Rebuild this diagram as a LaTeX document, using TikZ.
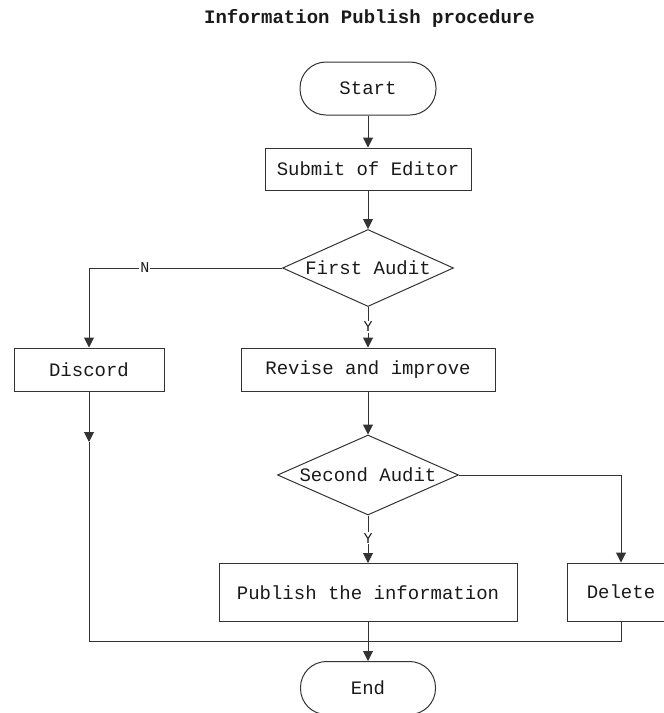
\documentclass[tikz,border=0pt]{standalone}
\usepackage{fontspec}
\setmainfont{Liberation Mono}
\usetikzlibrary{arrows.meta,shapes.geometric}
\definecolor{ln}{HTML}{333333}
\definecolor{tx}{HTML}{1A1A1A}
\tikzset{
  base/.style={draw=ln,line width=1pt,inner sep=0pt,text=tx,font=\fontsize{19}{21}\selectfont},
  stadium/.style={base,rectangle,rounded corners=26pt},
  procbox/.style={base,rectangle},
  decide/.style={base,diamond},
  conn/.style={draw=ln,line width=1pt,-{Triangle[width=10pt,length=10pt]}},
  plain/.style={draw=ln,line width=1pt},
  lbl/.style={fill=white,inner sep=1pt,text=tx,font=\fontsize{15}{16}\selectfont}
}
\begin{document}
\begin{tikzpicture}[x=1pt,y=1pt]
\useasboundingbox (0,0) rectangle (664,-713);
\node[font=\bfseries\fontsize{19}{21}\selectfont,text=tx] (title) at (369.5,-18) {Information Publish procedure};
\node[stadium,minimum width=136pt,minimum height=53pt] (start) at (368,-88.5) {Start};
\node[procbox,minimum width=206pt,minimum height=42pt] (submit) at (368,-169) {Submit of Editor};
\node[decide,aspect=2.22,minimum width=171pt,minimum height=77pt] (audit1) at (368,-268) {First Audit};
\node[procbox,minimum width=150pt,minimum height=43pt] (discord) at (89,-369.5) {Discord};
\node[procbox,minimum width=254pt,minimum height=43pt] (revise) at (368,-369.5) {Revise and improve};
\node[decide,aspect=2.26,minimum width=181pt,minimum height=80pt] (audit2) at (368,-475) {Second Audit};
\node[procbox,minimum width=298pt,minimum height=58pt] (publish) at (368,-592.5) {Publish the information};
\node[procbox,minimum width=108pt,minimum height=58pt] (delete) at (621,-592) {Delete};
\node[stadium,minimum width=135pt,minimum height=53pt] (end) at (368,-688) {End};
\coordinate (d1) at (89,-442);
\coordinate (m) at (368,-641);

\draw[conn] (start) -- (submit);
\draw[conn] (submit) -- (audit1);
\draw[conn] (audit1.west) -| node[lbl,pos=0.355] {N} (discord.north);
\draw[conn] (audit1.south) -- node[lbl,pos=0.49] {Y} (revise.north);
\draw[conn] (discord.south) -- (d1);
\draw[plain] (d1) |- (m);
\draw[conn] (revise) -- (audit2);
\draw[conn] (audit2.east) -| (delete.north);
\draw[conn] (audit2.south) -- node[lbl,pos=0.48] {Y} (publish.north);
\draw[plain] (delete.south) |- (m);
\draw[conn] (publish.south) -- (end.north);
\end{tikzpicture}
\end{document}
